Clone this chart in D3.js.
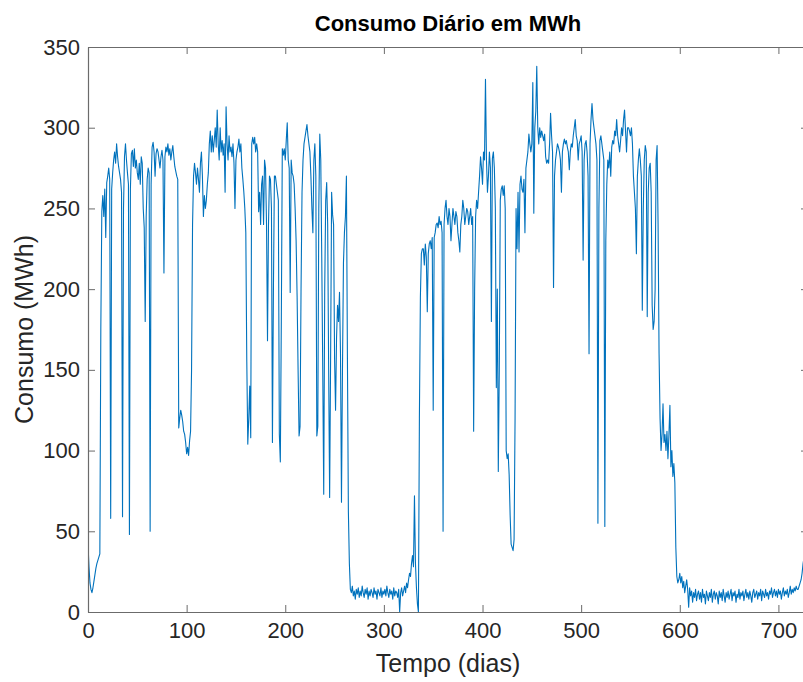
<!DOCTYPE html>
<html><head><meta charset="utf-8">
<script src="https://cdn.jsdelivr.net/npm/d3@7"></script>
<style>body{margin:0;background:#fff} text{font-family:"Liberation Sans", Arial, Helvetica, sans-serif}</style>
</head><body><svg id="c" width="803" height="682"></svg>
<script>
const titulo = "Consumo Diário em MWh";
const rotuloX = "Tempo (dias)";
const rotuloY = "Consumo (MWh)";
const ticksX = [0, 100, 200, 300, 400, 500, 600, 700];
const ticksY = [0, 50, 100, 150, 200, 250, 300, 350];

const consumoAno1 = [
42, 28, 18, 14, 12, 15, 19, 23, 27, 30,
32, 34, 36, 175, 248, 258, 245, 262, 232, 266,
270, 275, 268, 58, 262, 272, 280, 285, 278, 290,
282, 276, 272, 268, 260, 59, 250, 282, 290, 280,
272, 265, 48, 262, 284, 286, 276, 287, 275, 280,
272, 268, 278, 265, 282, 278, 250, 238, 180, 245,
268, 275, 272, 50, 265, 288, 291, 285, 270, 284,
287, 285, 280, 275, 282, 286, 280, 210, 282, 288,
285, 290, 283, 287, 280, 285, 289, 282, 276, 273,
270, 268, 114, 120, 125, 122, 118, 112, 110, 105,
98, 102, 97, 106, 112, 150, 240, 270, 278, 272,
265, 275, 268, 260, 278, 285, 270, 245, 258, 250,
255, 265, 272, 290, 298, 285, 295, 285, 292, 300,
288, 311, 290, 280, 300, 285, 292, 283, 290, 260,
313, 290, 280, 295, 285, 288, 282, 290, 278, 250,
280, 285, 288, 293, 285, 290, 275, 268, 260, 250,
235, 155, 104, 120, 140, 108, 290, 294, 290, 294,
285, 290, 285, 248, 260, 240, 265, 270, 240, 280,
275, 240, 168, 240, 270, 268, 250, 105, 200, 270,
270, 265, 260, 255, 110, 93, 180, 287, 283, 287,
280, 292, 303, 280, 275, 198, 280, 272, 270, 265,
250, 230, 196, 150, 109, 115, 200, 260, 280, 290,
294, 298, 302, 295, 290, 285, 270, 250, 235, 280,
290, 270, 109, 115, 250, 296, 280, 220, 150, 73,
200, 255, 266, 240, 150, 71, 160, 260, 246, 240,
157, 125, 170, 190, 180, 198, 160, 68, 150, 216,
235, 245, 270, 160, 62, 30, 14, 12, 16, 10,
13, 8, 14, 11, 15, 9, 13, 10, 16, 12,
9, 14, 11, 15, 8, 13, 10, 14, 12, 9,
15, 11, 13, 8, 14, 12, 10, 15, 9, 13,
11, 14, 10, 16, 12, 9, 14, 11, 13, 8,
15, 10, 13, 12, 9, 14, 0, 12, 15, 10,
13, 16, 12, 18, 15, 20, 24, 22, 30, 35,
28, 72, 30, 15, 5, 0, 120, 195, 222, 225,
225, 215, 228, 220, 186, 222, 228, 230, 225, 232,
125, 232, 235, 240, 241, 238, 245, 240, 242, 235,
50, 240, 250, 255, 245
];
const consumoAno2 = [
240, 250, 245, 230, 240,
250, 245, 240, 248, 245, 235, 230, 223, 240, 245,
255, 250, 240, 245, 250, 248, 240, 245, 250, 240,
245, 112, 200, 245, 255, 250, 260, 270, 282, 275,
265, 285, 280, 330, 280, 260, 270, 285, 275, 180,
281, 285, 275, 250, 139, 200, 87, 150, 255, 262,
264, 258, 264, 250, 100, 95, 98, 85, 60, 42,
40, 38, 45, 120, 250, 225, 260, 223, 265, 270,
262, 260, 268, 235, 275, 280, 285, 296, 290, 285,
290, 328, 247, 300, 310, 338, 300, 290, 300, 294,
298, 295, 292, 296, 282, 278, 280, 278, 290, 309,
295, 285, 201, 270, 280, 285, 290, 288, 285, 280,
260, 285, 290, 293, 290, 292, 288, 285, 274, 285,
290, 288, 295, 300, 305, 295, 292, 280, 290, 292,
295, 285, 218, 280, 290, 292, 285, 270, 160, 290,
305, 315, 305, 300, 295, 290, 280, 55, 250, 292,
295, 290, 285, 280, 53, 230, 265, 280, 275, 285,
270, 288, 292, 290, 298, 295, 305, 295, 290, 285,
292, 300, 295, 305, 311, 298, 285, 300, 300, 298,
295, 300, 290, 270, 260, 250, 222, 270, 280, 287,
280, 270, 187, 250, 280, 289, 285, 183, 260, 275,
278, 260, 190, 175, 180, 200, 280, 289, 240, 160,
120, 100, 110, 129, 105, 110, 100, 112, 95, 110,
128, 90, 100, 84, 92, 80, 40, 22, 18, 20,
24, 18, 22, 15, 19, 12, 16, 20, 14, 3,
15, 10, 13, 6, 12, 9, 14, 7, 11, 13,
8, 12, 6, 14, 9, 11, 5, 13, 10, 7,
12, 9, 14, 6, 11, 13, 8, 12, 10, 5,
13, 9, 12, 7, 14, 10, 6, 12, 9, 13,
8, 11, 14, 7, 12, 10, 13, 6, 11, 9,
14, 8, 12, 10, 13, 7, 11, 14, 9, 12,
8, 13, 10, 6, 12, 14, 9, 11, 13, 8,
12, 10, 14, 7, 13, 11, 9, 14, 10, 12,
8, 13, 11, 15, 9, 12, 14, 10, 13, 9,
14, 11, 13, 8, 12, 15, 10, 13, 11, 14,
9, 12, 16, 11, 14, 12, 15, 13, 16, 14,
14, 16, 18, 20, 24, 30, 34, 38, 40, 42
];
const consumo = consumoAno1.concat(consumoAno2);
const serie = consumo.map((v, i) => ({dia: i, valor: v}));

const svg = d3.select("#c");
const L = 88, R = 808, T = 47, B = 612;
const x = d3.scaleLinear().domain([0, 730]).range([L, R]);
const y = d3.scaleLinear().domain([0, 350]).range([B, T]);
const axisColor = "#6b6b6b", textColor = "#262626";

svg.append("defs").append("clipPath").attr("id", "clip")
  .append("rect").attr("x", L).attr("y", T).attr("width", R - L).attr("height", B - T);

svg.append("path").datum(serie)
  .attr("clip-path", "url(#clip)")
  .attr("fill", "none").attr("stroke", "#0072BD").attr("stroke-width", 1.1)
  .attr("stroke-linejoin", "round")
  .attr("d", d3.line().x(d => x(d.dia)).y(d => y(d.valor)));

function styleAxis(g, fs) {
  g.select(".domain").attr("stroke", axisColor).attr("stroke-width", 1.2);
  g.selectAll(".tick line").attr("stroke", axisColor).attr("stroke-width", 1);
  g.selectAll(".tick text").attr("fill", textColor).style("font-size", fs + "px").attr("font-family", null);
}

const xb = svg.append("g").attr("transform", `translate(0,${B})`)
  .call(d3.axisBottom(x).tickValues(ticksX).tickFormat(d3.format("d")).tickSizeInner(-7).tickSizeOuter(0).tickPadding(10));
styleAxis(xb, 22);
const xt = svg.append("g").attr("transform", `translate(0,${T})`)
  .call(d3.axisTop(x).tickValues(ticksX).tickFormat("").tickSizeInner(-7).tickSizeOuter(0));
styleAxis(xt, 22);
const yl = svg.append("g").attr("transform", `translate(${L},0)`)
  .call(d3.axisLeft(y).tickValues(ticksY).tickFormat(d3.format("d")).tickSizeInner(-7).tickSizeOuter(0).tickPadding(8));
styleAxis(yl, 22);
const yr = svg.append("g").attr("transform", `translate(${R},0)`)
  .call(d3.axisRight(y).tickValues(ticksY).tickFormat("").tickSizeInner(-7).tickSizeOuter(0));
styleAxis(yr, 22);

svg.append("text").attr("x", (L + R) / 2).attr("y", 31).attr("text-anchor", "middle")
  .attr("font-weight", "bold").style("font-size", "22px").attr("fill", "#000").text(titulo);
svg.append("text").attr("x", (L + R) / 2).attr("y", 672).attr("text-anchor", "middle")
  .style("font-size", "25px").attr("fill", textColor).text(rotuloX);
svg.append("text").attr("transform", `translate(33,${(T + B) / 2}) rotate(-90)`).attr("text-anchor", "middle")
  .style("font-size", "25px").attr("fill", textColor).text(rotuloY);
</script></body></html>
